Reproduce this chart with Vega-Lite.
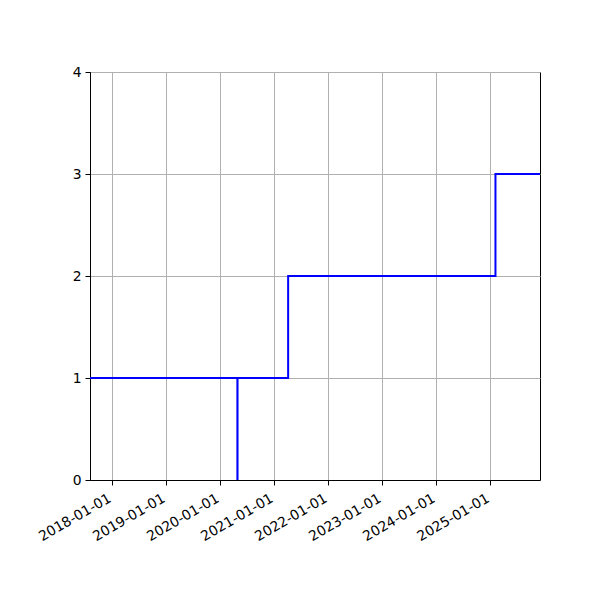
{
  "$schema": "https://vega.github.io/schema/vega-lite/v6.json",
  "autosize": "none",
  "width": 450,
  "height": 408,
  "padding": {"left": 90, "top": 72, "right": 60, "bottom": 120},
  "background": "white",
  "config": {
    "view": {"stroke": "black", "strokeWidth": 1},
    "axis": {
      "labelFont": "DejaVu Sans",
      "labelFontSize": 13.9,
      "labelColor": "black",
      "domainColor": "black",
      "domainWidth": 1,
      "tickColor": "black",
      "tickSize": 5,
      "tickWidth": 1,
      "gridColor": "#b0b0b0",
      "gridWidth": 1,
      "labelPadding": 4,
      "labelOverlap": false,
      "labelBound": false,
      "labelFlush": false,
      "title": null
    }
  },
  "data": {
    "values": [
      {"date": "2017-08-01", "value": 1},
      {"date": "2020-04-27", "value": 0},
      {"date": "2020-04-28", "value": 1},
      {"date": "2021-04-05", "value": 2},
      {"date": "2025-02-04", "value": 3},
      {"date": "2025-12-02", "value": 3}
    ]
  },
  "mark": {"type": "line", "interpolate": "step-after", "color": "#0000ff", "strokeWidth": 2, "clip": true},
  "encoding": {
    "x": {
      "field": "date",
      "type": "temporal",
      "scale": {
        "type": "utc",
        "domain": [
          {"year": 2017, "month": 8, "date": 5, "utc": true},
          {"year": 2025, "month": 12, "date": 2, "utc": true}
        ]
      },
      "axis": {
        "values": [
          {"year": 2018, "month": 1, "date": 1, "utc": true},
          {"year": 2019, "month": 1, "date": 1, "utc": true},
          {"year": 2020, "month": 1, "date": 1, "utc": true},
          {"year": 2021, "month": 1, "date": 1, "utc": true},
          {"year": 2022, "month": 1, "date": 1, "utc": true},
          {"year": 2023, "month": 1, "date": 1, "utc": true},
          {"year": 2024, "month": 1, "date": 1, "utc": true},
          {"year": 2025, "month": 1, "date": 1, "utc": true}
        ],
        "format": "%Y-%m-%d",
        "labelAngle": -30,
        "labelAlign": "right",
        "labelBaseline": "top",
        "labelOffset": -6,
        "labelPadding": 6,
        "grid": true
      }
    },
    "y": {
      "field": "value",
      "type": "quantitative",
      "scale": {"domain": [0, 4], "nice": false},
      "axis": {"values": [0, 1, 2, 3, 4], "grid": true, "format": "d"}
    }
  }
}
